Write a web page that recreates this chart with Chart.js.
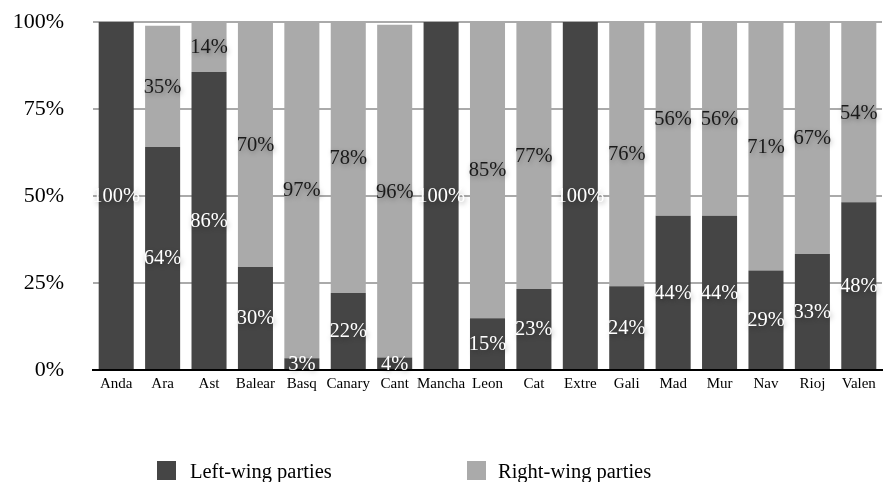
<!DOCTYPE html>
<html>
<head>
<meta charset="utf-8">
<script src="https://cdn.jsdelivr.net/npm/chart.js@4/dist/chart.umd.min.js"></script>
<style>
  html, body { margin: 0; padding: 0; background: #fff; }
  #wrap { position: relative; width: 884px; height: 482px; overflow: hidden; }
  #chart { position: absolute; left: 0; top: 0; }
  .leg { position: absolute; top: 461px; height: 19px; font-family: "Liberation Serif", "Times New Roman", serif; font-size: 20.5px; color: #000; white-space: nowrap; }
  .leg .box { position: absolute; left: 0; top: 0; width: 19px; height: 19px; }
  .leg .txt { position: absolute; top: -1px; line-height: 22px; }
</style>
</head>
<body>
<div id="wrap">
  <canvas id="chart" width="884" height="482"></canvas>
  <div class="leg" id="legLeft" style="left:157px"><div class="box"></div><div class="txt" style="left:33px"></div></div>
  <div class="leg" id="legRight" style="left:467px"><div class="box"></div><div class="txt" style="left:31px"></div></div>
</div>
<script>
// Autonomous communities
const regions = ['Anda', 'Ara', 'Ast', 'Balear', 'Basq', 'Canary', 'Cant', 'Mancha', 'Leon',
                 'Cat', 'Extre', 'Gali', 'Mad', 'Mur', 'Nav', 'Rioj', 'Valen'];

// Vote share (%) per bloc
const leftWing  = [100, 64.1, 85.6, 29.6, 3.4, 22.1, 3.6, 100, 14.9, 23.3, 100, 24.1, 44.3, 44.3, 28.6, 33.3, 48.2];
const rightWing = [0, 34.8, 14.4, 70.4, 96.6, 77.9, 95.6, 0, 85.1, 76.7, 0, 75.9, 55.7, 55.7, 71.4, 66.7, 54];

const yTicks = [0, 25, 50, 75, 100];

const seriesNames = ['Left-wing parties', 'Right-wing parties'];
const seriesColors = ['#454545', '#aaaaaa'];
const labelColors = ['#ffffff', '#1a1a1a'];

const SERIF = '"Liberation Serif", "Times New Roman", serif';

// Legend below the plot
[['legLeft', 0], ['legRight', 1]].forEach(([id, i]) => {
  const el = document.getElementById(id);
  el.querySelector('.box').style.background = seriesColors[i];
  el.querySelector('.txt').textContent = seriesNames[i];
});

// Percentage labels centred in each bar segment
const segmentLabels = {
  id: 'segmentLabels',
  afterDatasetsDraw(chart) {
    const ctx = chart.ctx;
    const area = chart.chartArea;
    chart.data.datasets.forEach((ds, di) => {
      const meta = chart.getDatasetMeta(di);
      meta.data.forEach((bar, i) => {
        const v = ds.data[i];
        if (!v) return;
        const top = Math.max(Math.min(bar.y, bar.base), area.top);
        const bottom = Math.min(Math.max(bar.y, bar.base), area.bottom);
        const cy = (top + bottom) / 2;
        ctx.save();
        ctx.font = '20.5px ' + SERIF;
        ctx.textAlign = 'center';
        ctx.textBaseline = 'middle';
        ctx.shadowColor = 'rgba(0,0,0,0.35)';
        ctx.shadowBlur = 5;
        ctx.shadowOffsetX = 1;
        ctx.shadowOffsetY = 2;
        ctx.fillStyle = labelColors[di];
        ctx.fillText(Math.round(v) + '%', bar.x, cy + 1);
        ctx.restore();
      });
    });
  }
};

new Chart(document.getElementById('chart'), {
  type: 'bar',
  data: {
    labels: regions,
    datasets: [
      { label: seriesNames[0], data: leftWing, backgroundColor: seriesColors[0] },
      { label: seriesNames[1], data: rightWing, backgroundColor: seriesColors[1] }
    ]
  },
  options: {
    responsive: false,
    devicePixelRatio: 1,
    animation: false,
    layout: { padding: { top: 22, right: 2, bottom: 84, left: 11 } },
    datasets: { bar: { categoryPercentage: 1, barPercentage: 0.755 } },
    plugins: { legend: { display: false }, tooltip: { enabled: false } },
    scales: {
      x: {
        stacked: true,
        grid: { display: false, drawTicks: false },
        border: { display: true, color: '#000', width: 2 },
        ticks: { color: '#000', font: { family: SERIF, size: 15 }, padding: 5, maxRotation: 0, autoSkip: false }
      },
      y: {
        stacked: true,
        min: 0,
        max: 100,
        afterBuildTicks(scale) { scale.ticks = yTicks.map(v => ({ value: v })); },
        afterFit(scale) { scale.width = 82; scale.paddingTop = 0; scale.paddingBottom = 0; },
        grid: { color: '#aaaaaa', lineWidth: 2, drawTicks: false },
        border: { display: false },
        ticks: {
          color: '#000',
          font: { family: SERIF, size: 22 },
          padding: 29,
          callback: v => v + '%'
        }
      }
    }
  },
  plugins: [segmentLabels]
});
</script>
</body>
</html>
